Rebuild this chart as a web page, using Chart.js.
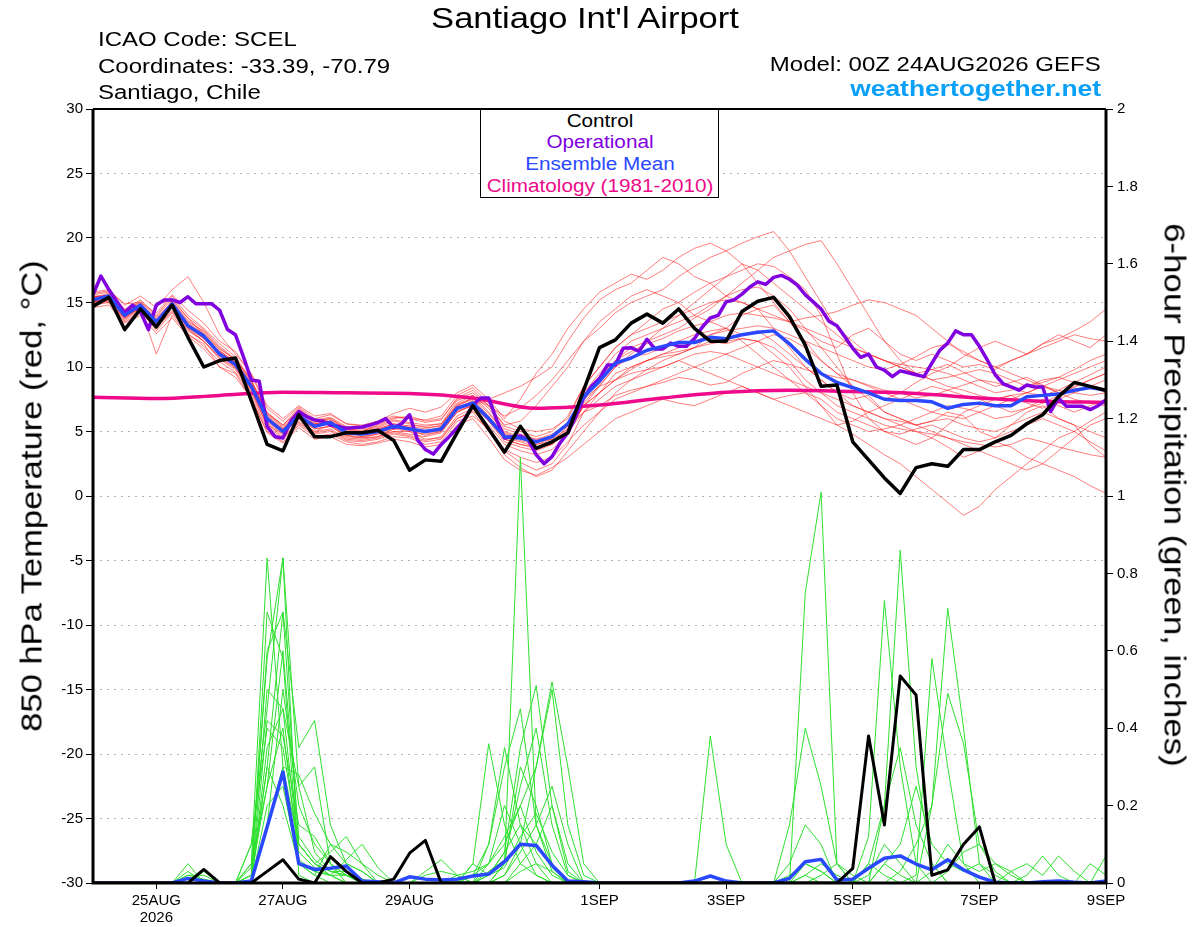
<!DOCTYPE html>
<html>
<head>
<meta charset="utf-8">
<script src="https://cdn.jsdelivr.net/npm/chart.js@4.4.1/dist/chart.umd.min.js"></script>
<style>
  html, body { margin: 0; padding: 0; background: #fff; }
  #wrap { position: relative; width: 1200px; height: 927px; overflow: hidden;
          font-family: 'Liberation Sans', Arial, sans-serif; color: #000; }
  #c { position: absolute; left: 0; top: 0; }
  .t { position: absolute; white-space: nowrap; line-height: 1; }
  .wide-l { transform-origin: left center; transform: scaleX(1.2); }
  .wide-r { transform-origin: right center; transform: scaleX(1.2); }
  #legend { position: absolute; left: 480px; top: 109px; width: 237px; height: 87px;
            border: 1px solid #000; background: #fff; }
  #legend div { position: absolute; left: 50%; font-size: 18px; line-height: 1;
                white-space: nowrap; transform: translateX(-50%) scaleX(1.15); }
</style>
</head>
<body>
<div id="wrap">
  <canvas id="c" width="1200" height="927"></canvas>

  <div class="t" style="left:585px; top:4px; font-size:29px; transform:translateX(-50%) scaleX(1.19);">Santiago Int'l Airport</div>
  <div class="t wide-l" style="left:98px; top:29px; font-size:20px;">ICAO Code: SCEL</div>
  <div class="t wide-l" style="left:98px; top:56px; font-size:20px;">Coordinates: -33.39, -70.79</div>
  <div class="t wide-l" style="left:98px; top:82px; font-size:20px;">Santiago, Chile</div>
  <div class="t wide-r" style="right:99px; top:54px; font-size:20px;">Model: 00Z 24AUG2026 GEFS</div>
  <div class="t wide-r" style="right:99px; top:78px; font-size:22px; font-weight:bold; color:#0aa0f8;">weathertogether.net</div>

  <div id="legend">
    <div style="top:2px; color:#000;">Control</div>
    <div style="top:23px; color:#8000e0;">Operational</div>
    <div style="top:45px; color:#2a48ff;">Ensemble Mean</div>
    <div style="top:67px; color:#ee0a8a;">Climatology (1981-2010)</div>
  </div>

  <div class="t" style="left:32px; top:496px; font-size:29px; transform:translate(-50%,-50%) rotate(-90deg) scaleX(1.19);">850 hPa Temperature (red, °C)</div>
  <div class="t" style="left:1174px; top:495px; font-size:29px; transform:translate(-50%,-50%) rotate(90deg) scaleX(1.2);">6-hour Precipitation (green, inches)</div>
</div>

<script>
// x axis: forecast hour, 6-hourly from 00Z 24AUG to 00Z 9SEP
const tickHours = [24, 72, 120, 192, 240, 288, 336, 384];
const tickLabels = [['25AUG', '2026'], '27AUG', '29AUG', '1SEP', '3SEP', '5SEP', '7SEP', '9SEP'];

// 850 hPa temperature (C), 6-hourly
const controlTemp = [14.7,15.4,12.9,14.5,13.1,14.8,12.3,10.0,10.5,10.7,7.4,
  4.0,3.5,6.3,4.6,4.6,4.9,4.9,5.1,4.3,2.0,2.8,2.7,
  4.9,7.0,5.2,3.4,5.4,3.7,4.2,4.9,
  8.2,11.5,12.1,13.4,14.1,13.4,14.5,13.0,12.0,12.0,14.3,15.1,15.4,13.9,
  11.7,8.5,8.6,4.2,2.8,1.4,0.2,2.2,2.5,2.3,3.6,3.6,4.2,4.7,5.6,6.3,7.7,8.8,8.5,8.2];

const meanTemp = [15.2,15.5,14.0,14.8,13.5,14.9,13.2,12.4,11.0,10.2,8.5,
  6.0,5.0,6.2,5.4,5.7,4.9,4.8,5.0,5.4,5.2,5.0,5.2,
  6.8,7.2,6.0,4.6,4.5,4.2,4.6,5.6,
  7.7,8.9,10.3,10.7,11.3,11.6,11.9,11.9,12.3,12.2,12.5,12.7,12.8,11.8,
  10.6,9.5,8.8,8.4,8.0,7.5,7.4,7.4,7.3,6.8,7.1,7.2,7.0,7.0,7.7,7.8,7.9,8.2,8.4,8.2];

// operational run is 3-hourly
const operTemp = [15.6,17.05,16.0,15.1,14.2,14.8,14.3,12.9,14.8,15.2,
  15.2,15.0,15.45,14.9,14.9,14.9,14.4,12.9,12.5,10.8,
  9.0,8.9,5.4,4.6,4.5,5.8,6.55,6.15,5.9,5.8,
  5.5,5.4,5.25,5.3,5.35,5.5,5.7,6.0,5.3,5.6,
  6.3,4.35,3.6,3.25,4.0,4.6,5.25,6.0,7.05,7.6,
  7.6,5.9,4.5,4.6,4.65,4.35,3.2,2.5,3.05,4.1,
  4.9,6.15,7.6,8.5,9.1,10.15,10.15,11.45,11.5,11.2,
  12.15,11.4,11.4,11.85,11.6,11.6,12.2,13.1,13.8,14.0,
  15.05,15.2,15.65,16.2,16.6,16.4,16.95,17.1,16.8,16.35,
  15.6,15.05,14.5,13.55,13.2,12.35,11.45,10.75,11.0,10.0,
  9.75,9.25,9.7,9.55,9.4,9.25,10.3,11.3,11.85,12.8,
  12.5,12.5,11.6,10.55,9.4,8.7,8.45,8.2,8.6,8.45,
  8.45,6.55,7.6,6.95,6.95,6.95,6.7,7.0,7.45];

// climatology, one value per day
const climTemp = [7.65,7.55,7.8,8.05,8.0,7.95,7.6,6.8,7.05,7.6,8.05,8.2,8.1,7.95,7.6,7.35,7.25];

// ensemble members, 6-hourly
const tempMembers = [
  [15.6,15.8,14.5,15.2,14.0,15.5,14.0,13.0,11.8,10.8,9.0,
   6.5,5.5,6.8,5.8,6.0,5.2,5.0,5.5,6.0,6.2,5.8,6.0,
   7.5,8.0,7.0,5.5,5.8,7.0,8.5,10.0,
   12.0,13.0,14.2,15.0,15.5,16.0,17.0,17.8,18.5,19.0,19.6,20.1,20.5,19.0,
   17.0,15.0,13.0,12.0,11.0,10.5,10.0,9.5,9.8,10.2,9.6,9.0,8.5,8.8,9.2,8.6,8.0,8.4,9.0,9.5],
  [15.0,15.2,13.8,14.6,13.2,14.6,13.0,12.0,10.6,9.8,8.0,
   5.5,4.8,6.0,5.2,5.4,4.6,4.5,4.8,5.0,4.8,4.6,4.9,
   6.5,7.0,7.5,8.0,8.5,9.2,10.0,12.0,
   13.8,15.2,16.0,16.5,17.5,18.5,18.0,17.0,16.5,15.5,15.0,14.5,13.0,11.5,
   10.0,9.0,8.0,7.5,7.8,6.5,6.0,5.5,5.8,6.5,6.2,5.0,4.5,5.5,6.5,7.0,6.0,5.5,4.0,3.0],
  [15.3,15.6,14.2,14.9,13.8,15.0,13.5,12.8,11.5,10.5,8.8,
   6.2,5.2,6.5,5.6,5.8,5.0,4.6,4.8,5.2,5.0,4.4,4.5,
   6.0,6.5,5.0,3.5,2.6,2.0,2.5,4.0,
   6.5,8.0,9.5,10.0,10.5,10.8,11.0,11.5,12.0,11.8,12.2,12.0,11.0,10.0,
   8.5,7.0,5.5,4.8,4.0,3.2,2.5,1.5,0.5,-0.5,-1.5,-0.8,0.5,1.5,2.5,3.5,4.5,5.0,5.8,6.5],
  [14.8,15.0,13.5,14.2,13.0,14.3,12.8,12.0,10.8,10.0,8.2,
   5.8,4.9,6.0,5.0,5.5,4.7,4.5,4.6,5.2,5.5,5.4,5.6,
   7.0,7.5,6.2,4.8,4.5,4.0,4.2,5.0,
   6.5,7.5,8.5,9.0,9.8,10.5,11.0,11.5,12.5,13.0,14.0,14.5,14.8,13.5,
   12.8,12.0,11.5,12.5,13.0,12.0,11.0,10.5,11.0,10.5,10.0,10.2,9.8,10.5,11.0,11.8,12.2,12.8,13.5,14.5],
  [15.5,15.3,14.0,14.5,13.2,15.2,13.8,12.5,11.0,10.0,8.5,
   6.0,5.0,6.2,5.6,5.8,5.1,5.0,5.2,5.6,5.4,5.2,5.5,
   7.2,7.8,6.8,5.2,4.8,4.4,4.6,5.5,
   7.5,9.0,10.5,11.5,12.0,12.5,13.0,13.8,14.5,15.5,16.5,17.5,18.5,19.0,
   19.5,19.8,18.0,16.0,14.0,12.0,10.5,9.5,9.0,8.5,8.2,7.8,7.5,7.8,8.0,8.5,8.2,8.0,7.8,8.0],
  [15.0,15.4,13.8,14.8,13.4,14.6,13.0,12.2,11.2,10.4,8.6,
   6.0,5.2,6.4,5.4,5.6,4.8,4.9,5.2,5.6,5.2,5.0,5.3,
   6.8,7.4,6.0,4.5,4.2,3.8,4.0,5.0,
   7.0,8.5,10.0,10.8,11.0,11.5,12.0,12.5,12.8,13.0,12.5,12.8,12.0,11.0,
   10.0,9.0,8.0,7.0,6.5,6.0,5.5,5.0,4.5,3.8,3.0,3.5,4.2,3.8,3.0,2.5,2.0,1.5,0.8,0.2],
  [15.4,15.7,14.4,15.0,13.6,14.9,13.4,12.6,11.4,10.6,9.0,
   6.4,5.4,6.6,5.8,6.0,5.3,5.2,5.4,5.9,5.7,5.5,5.6,
   7.4,7.8,6.5,5.0,4.6,4.4,4.8,5.4,
   6.5,7.0,7.8,8.2,8.5,8.8,9.2,9.0,8.6,8.8,9.5,10.0,10.5,10.2,
   9.8,9.5,9.2,9.0,8.6,8.2,8.0,7.6,7.8,8.2,8.6,9.0,8.8,8.4,8.0,7.8,8.2,8.8,9.4,10.0],
  [15.1,15.3,13.9,14.7,13.6,14.8,13.3,12.3,10.9,10.1,8.3,
   5.6,4.6,5.8,5.0,5.2,4.5,4.4,4.6,5.0,5.0,4.8,5.0,
   6.6,7.0,5.8,4.2,3.8,3.5,4.0,5.2,
   8.0,9.5,11.0,12.0,12.5,13.0,13.5,14.0,14.8,15.5,16.0,16.2,15.5,14.5,
   13.0,11.5,10.0,8.5,7.5,6.5,6.0,5.5,5.8,6.0,5.5,5.2,5.0,5.5,6.0,6.5,6.0,5.5,5.0,4.5],
  [14.9,15.1,13.6,14.4,12.8,14.2,12.6,11.6,10.4,9.6,7.8,
   5.2,4.4,5.6,4.8,5.0,4.3,4.2,4.4,4.8,4.6,4.2,4.4,
   6.0,6.6,5.5,4.0,3.5,3.2,3.6,4.8,
   7.0,8.0,9.0,10.0,10.5,11.0,11.2,11.5,11.8,12.0,12.2,12.0,11.5,10.5,
   9.0,8.0,7.0,6.5,6.0,5.5,5.2,5.0,4.8,4.5,4.2,4.0,3.8,4.0,4.5,4.2,3.8,3.5,3.2,3.0],
  [15.8,16.0,14.8,15.5,14.6,16.0,17.0,15.0,12.5,11.0,9.5,
   7.0,6.0,7.0,6.2,6.4,5.6,5.4,5.8,6.2,6.0,5.9,6.2,
   7.8,8.4,7.2,5.8,5.2,5.0,5.2,6.0,
   8.5,10.0,11.5,12.5,13.0,13.5,14.0,14.5,15.0,15.2,15.0,14.5,14.0,13.5,
   13.0,12.5,12.0,11.5,11.0,10.5,10.0,9.5,9.0,9.2,9.5,9.8,9.5,9.0,8.5,8.8,9.2,9.8,10.5,11.0],
  [15.2,15.0,13.8,14.6,11.0,14.0,12.5,11.8,10.0,9.5,7.5,
   5.0,4.2,5.5,4.6,4.8,4.2,4.0,4.2,4.6,4.5,4.0,4.2,
   5.8,6.2,5.2,3.6,3.0,2.6,3.0,4.2,
   5.5,6.5,7.5,8.0,8.5,9.0,9.5,10.0,10.5,11.0,11.5,12.0,12.5,12.2,
   11.5,10.5,9.5,9.0,8.5,8.0,7.5,7.0,6.5,6.2,6.0,6.5,7.0,7.5,8.0,8.5,9.0,9.5,10.0,10.5],
  [15.0,15.5,14.0,14.8,13.4,14.6,13.2,12.2,11.0,10.2,8.6,
   6.1,5.1,6.3,5.5,5.8,5.0,4.8,5.1,5.5,5.3,5.0,5.3,
   7.0,7.6,7.0,6.2,6.8,7.8,9.0,10.5,
   12.0,13.5,14.5,15.5,16.0,15.5,15.0,14.0,13.5,13.0,12.0,11.0,10.0,9.0,
   8.0,7.0,6.0,5.5,5.0,5.2,5.5,6.0,6.5,7.0,6.8,6.5,6.0,6.2,6.8,7.5,7.0,6.5,7.0,7.5],
  [15.4,15.6,14.2,14.9,13.7,15.1,13.6,12.7,11.3,10.3,8.7,
   6.3,5.3,6.5,5.7,5.9,5.2,5.1,5.3,5.8,5.6,5.3,5.4,
   7.1,7.6,6.4,4.9,4.5,4.2,4.4,5.2,
   7.2,8.6,10.0,11.0,12.0,13.0,14.0,15.0,16.0,17.0,18.0,17.5,16.5,15.5,
   14.5,13.5,12.5,11.5,11.0,10.5,10.2,10.0,9.8,9.5,9.0,8.5,8.0,8.2,8.5,9.0,9.2,8.8,8.5,8.0],
  [15.3,15.4,14.1,14.8,13.5,14.8,13.2,12.4,11.1,10.3,8.5,
   5.9,5.0,6.2,5.4,5.6,4.9,4.8,5.0,5.4,5.2,4.9,5.1,
   6.7,7.2,6.0,4.6,4.3,4.0,4.4,5.6,
   7.5,8.5,9.0,9.5,9.8,10.0,10.5,11.0,11.2,11.0,10.5,10.0,9.5,9.0,
   8.5,8.0,7.5,7.0,6.5,6.0,5.8,5.5,5.0,4.5,4.0,3.5,3.0,2.5,2.0,2.5,3.5,4.5,5.5,6.0],
  [15.2,15.5,14.0,14.8,13.5,14.9,13.3,12.5,11.2,10.4,8.7,
   6.0,5.1,6.3,5.5,5.7,5.0,4.9,5.1,5.5,5.3,5.0,5.2,
   6.9,7.3,6.0,4.4,4.0,3.8,4.2,5.4,
   7.8,9.2,10.5,11.2,11.8,12.2,12.8,13.2,13.5,14.0,14.2,14.0,13.8,13.5,
   13.8,14.0,14.3,14.8,15.2,15.0,14.5,14.0,13.0,12.0,11.0,10.5,10.0,9.5,9.0,8.5,8.0,7.5,7.2,7.0],
  [15.0,15.2,13.7,14.5,13.1,14.4,12.9,12.0,10.7,9.9,8.2,
   5.4,4.5,5.7,4.9,5.1,4.4,4.3,4.5,4.9,4.7,4.3,4.6,
   6.2,6.8,5.0,3.2,2.2,1.5,2.0,3.5,
   5.0,6.5,8.0,9.0,9.5,10.0,10.5,10.0,9.5,9.0,8.5,8.0,7.5,7.0,
   6.5,6.0,5.5,5.8,6.5,7.0,7.5,8.0,8.5,8.2,7.8,7.5,7.0,6.5,6.8,7.2,7.8,8.5,9.0,9.5],
  [15.7,15.9,14.9,15.0,14.2,15.6,14.4,13.4,12.0,11.2,9.4,
   6.8,5.8,6.9,6.0,6.3,5.6,5.5,5.8,6.4,6.8,6.5,6.9,
   8.0,8.6,7.5,6.0,7.5,9.5,11.0,13.0,
   14.5,15.8,16.5,17.2,16.8,17.5,18.5,19.2,19.6,19.0,18.0,16.5,15.0,13.5,
   12.0,10.5,9.5,8.5,8.0,7.5,8.0,8.8,9.5,10.0,10.8,11.5,12.0,11.5,11.0,11.8,12.5,12.0,11.5,12.5],
  [14.6,14.8,13.4,14.0,12.6,13.8,12.4,11.4,10.0,9.2,7.6,
   4.9,4.1,5.3,4.4,4.6,4.0,3.9,4.1,4.4,4.2,3.8,4.0,
   5.5,6.0,4.5,2.8,2.0,1.6,2.2,3.0,
   4.0,5.0,6.0,6.5,7.0,7.5,7.2,7.0,7.5,8.0,8.5,8.0,7.5,7.8,
   8.0,7.5,6.5,6.0,5.5,5.0,4.8,5.2,5.5,5.0,4.5,4.2,4.5,5.0,5.5,6.0,5.5,5.0,4.2,3.5],
  [15.5,15.5,14.3,15.1,13.9,15.3,13.8,12.9,11.6,10.6,8.9,
   6.4,5.5,6.7,5.9,6.1,5.4,5.3,5.6,6.1,6.0,5.7,5.9,
   7.6,8.2,7.0,5.4,5.0,4.6,5.0,6.2,
   8.5,10.0,11.5,12.5,13.5,14.5,15.0,15.8,16.5,17.0,17.5,18.0,17.8,17.0,
   16.0,14.0,11.0,8.0,6.0,5.0,4.5,4.0,4.5,5.5,6.5,7.0,7.5,7.8,7.2,6.8,7.5,8.0,8.5,9.0],
  [15.2,15.6,14.1,14.7,13.3,14.7,13.1,12.3,11.0,10.1,8.4,
   5.7,4.8,6.0,5.2,5.4,4.7,4.6,4.9,5.3,5.1,4.7,5.0,
   6.5,7.1,5.8,4.4,4.0,3.7,4.0,5.0,
   7.0,8.0,9.0,9.8,10.5,11.0,11.5,12.0,12.5,12.8,13.0,13.2,13.0,12.5,
   12.0,11.5,11.0,10.5,10.0,9.8,10.2,10.8,11.5,11.8,11.2,10.5,10.0,10.5,11.0,11.5,12.0,12.5,12.2,12.0]
];

// 6-hour precipitation (inches)
const controlPrecip = [0,0,0,0,0,0,0,0.035,0,0,0,0.03,0.06,
  0.01,0,0.068,0.03,0,0,0.01,0.077,0.11,0,0,0,0,
  0,0,0,0,0,0,0,0,0,0,0,0,0,
  0,0,0,0,0,0,0,0,0,0.038,0.38,0.15,0.535,
  0.486,0.02,0.034,0.10,0.145,0,0,0,0,0,0,0,0];

const meanPrecip = [0,0,0,0,0,0,0.012,0.005,0,0,0.005,0.145,0.287,
  0.05,0.035,0.038,0.044,0.005,0.003,0,0.016,0.01,0.008,0.01,0.018,0.023,
  0.055,0.10,0.097,0.046,0.005,0.003,0,0,0,0,0,0,0.005,
  0.018,0.005,0,0,0,0.012,0.055,0.061,0.008,0.01,0.038,0.064,0.07,
  0.049,0.034,0.06,0.034,0.015,0.002,0,0,0.003,0.005,0.002,0,0.005];

const precipMembers = [
  [0,0,0,0,0,0,0.02,0.01,0,0,0.05,0.84,0.30,
   0.10,0.05,0.02,0,0,0,0,0,0,0,0,0,0.05,
   0.20,0.10,0.02,0,0,0,0,0,0,0,0,0,0,
   0,0,0,0,0,0,0.02,0,0,0,0.05,0.02,0,
   0,0,0,0,0,0,0,0,0,0,0,0,0],
  [0,0,0,0,0,0,0,0.03,0,0,0.10,0.45,0.84,
   0.25,0.08,0.03,0.02,0,0,0,0,0.02,0.03,0.02,0,0,
   0.05,1.10,0.15,0.03,0,0,0,0,0,0,0,0,0,
   0,0,0,0,0,0,0.05,0.03,0,0,0.02,0.10,0.05,
   0,0,0,0,0,0,0,0,0,0,0,0,0],
  [0,0,0,0,0,0,0,0,0,0,0.02,0.30,0.70,
   0.35,0.42,0.15,0.05,0.03,0,0,0,0,0,0,0,0.02,
   0.08,0.35,0.51,0.20,0.03,0,0,0,0,0,0,0,0,
   0,0,0,0,0,0,0.75,1.01,0.05,0,0,0,0,
   0,0,0,0,0,0,0,0,0,0,0,0,0],
  [0,0,0,0,0,0,0.03,0,0,0,0,0.70,0.58,
   0.05,0.03,0.02,0.06,0.10,0.04,0,0,0,0,0.02,0.03,0.05,
   0.10,0.20,0.30,0.52,0.30,0.05,0,0,0,0,0,0,0,
   0,0,0,0,0,0,0.02,0.05,0.02,0,0,0,0,
   0,0,0,0,0,0,0,0,0,0,0,0,0],
  [0,0,0,0,0,0,0,0,0,0,0.04,0.58,0.84,
   0.02,0,0,0,0,0,0,0,0,0,0,0.05,0.36,
   0.15,0.05,0.02,0,0,0,0,0,0,0,0,0,0,
   0,0,0,0,0,0,0,0,0,0,0.12,0.73,0.30,
   0.05,0,0,0,0,0,0,0,0,0,0,0,0],
  [0,0,0,0,0,0,0,0,0,0,0,0.50,0.45,
   0.25,0.30,0.05,0.02,0,0,0,0,0,0,0,0.02,0.10,
   0.30,0.45,0.15,0.05,0,0,0,0,0,0,0,0,0,
   0,0,0,0,0,0,0,0,0,0,0,0.20,0.86,
   0.30,0.05,0,0,0,0,0,0,0,0,0,0,0],
  [0,0,0,0,0,0,0.02,0.02,0,0,0.10,0.40,0.35,
   0.10,0.05,0.08,0.12,0.05,0,0,0,0,0,0,0,0.03,
   0.06,0.25,0.40,0.15,0.02,0,0,0,0,0,0,0,0,
   0.38,0.10,0,0,0,0,0,0,0,0,0,0,0,
   0.02,0.58,0.30,0.05,0,0,0,0,0,0,0,0,0],
  [0,0,0,0,0,0,0,0,0,0,0.02,0.25,0.60,
   0.12,0.06,0.03,0.03,0,0,0,0,0.03,0.06,0.02,0,0,
   0.02,0.10,0.30,0.50,0.15,0.02,0,0,0,0,0,0,0,
   0,0,0,0,0,0.05,0.15,0.10,0,0,0,0,0,
   0,0.20,0.71,0.40,0.05,0,0,0,0,0,0,0,0],
  [0,0,0,0,0,0,0,0,0,0,0,0.30,0.20,
   0.05,0.02,0,0,0,0,0,0,0,0,0,0.02,0.05,
   0.12,0.20,0.08,0.02,0,0,0,0,0,0,0,0,0,
   0,0,0,0,0,0,0,0,0,0,0,0,0.03,
   0.10,0.20,0.49,0.36,0.10,0.03,0,0,0,0,0,0,0],
  [0,0,0,0,0,0,0,0,0,0,0,0.15,0.50,
   0.20,0.10,0.05,0,0,0,0,0,0,0,0,0,0.10,
   0.35,0.15,0.05,0,0,0,0,0,0,0,0,0,0,
   0,0,0,0,0,0.15,0.40,0.25,0.05,0,0,0,0,
   0,0,0,0,0,0,0,0.02,0.07,0.02,0,0,0],
  [0,0,0,0,0,0,0,0,0,0,0,0.35,0.45,
   0.08,0.04,0.02,0,0,0,0,0,0,0,0,0,0,
   0.05,0.30,0.20,0.05,0,0,0,0,0,0,0,0,0,
   0,0,0,0,0,0,0,0,0,0,0.05,0.20,0.35,
   0.15,0.05,0,0,0,0,0,0,0,0,0,0,0.07],
  [0,0,0,0,0,0,0,0,0,0,0,0.42,0.38,
   0.15,0.12,0.05,0.02,0,0,0,0,0,0,0,0,0.02,
   0.04,0.12,0.18,0.08,0.02,0,0,0,0,0,0,0,0,
   0,0,0,0,0,0,0,0,0,0,0,0,0,
   0,0,0,0,0,0,0,0,0,0,0,0,0],
  [0,0,0,0,0,0,0,0,0,0,0,0.15,0.30,
   0.28,0.18,0.10,0.05,0.03,0,0,0,0,0,0,0,0,
   0,0.05,0.10,0.04,0,0,0,0,0,0,0,0,0,
   0,0,0,0,0,0,0,0,0,0,0,0.05,0.10,
   0.25,0.10,0.05,0.03,0.05,0.02,0,0,0,0,0,0,0],
  [0,0,0,0,0,0,0.05,0,0,0,0,0.20,0.25,
   0.05,0.02,0.10,0.08,0.05,0.02,0,0,0,0,0,0.05,0.02,
   0.08,0.15,0.10,0.20,0.05,0,0,0,0,0,0,0,0,
   0,0,0,0,0,0.02,0.05,0.03,0,0,0,0.05,0.02,
   0,0.03,0.10,0.05,0.03,0.05,0.03,0,0,0,0,0,0],
  [0,0,0,0,0,0,0,0,0,0,0.02,0.60,0.70,
   0.10,0.05,0.03,0.02,0,0,0,0,0,0,0,0,0,
   0.02,0.08,0.15,0.25,0.10,0,0,0,0,0,0,0,0,
   0,0,0,0,0,0,0,0.02,0.05,0.02,0,0,0,
   0,0,0.03,0.08,0.10,0.05,0.02,0,0,0,0,0.05,0.02],
  [0,0,0,0,0,0,0,0,0,0,0.05,0.25,0.40,
   0.06,0.03,0.02,0.02,0.01,0,0,0,0,0,0,0,0,
   0,0.03,0.05,0.03,0,0,0,0,0,0,0,0,0,
   0,0,0,0,0,0,0,0,0,0,0,0,0,
   0,0,0,0,0,0,0.03,0.05,0.02,0.07,0.03,0,0]
];

const pts = (vals, stepHours) => vals.map((v, i) => ({ x: i * stepHours, y: v }));

const line = (vals, step, color, width, axis) => ({
  data: pts(vals, step),
  borderColor: color,
  borderWidth: width,
  yAxisID: axis,
  pointRadius: 0,
  tension: 0,
  fill: false,
  borderJoinStyle: 'round'
});

// first dataset is drawn on top
const datasets = [
  line(controlTemp, 6, '#000000', 3.5, 'y'),
  line(meanTemp, 6, '#2a48ff', 3.5, 'y'),
  line(operTemp, 3, '#8000e0', 3.5, 'y'),
  Object.assign(line(climTemp, 24, '#ee0a8a', 3.5, 'y'), { cubicInterpolationMode: 'monotone' }),
  line(controlPrecip, 6, '#000000', 3, 'y2'),
  line(meanPrecip, 6, '#2a48ff', 3.5, 'y2')
];
precipMembers.forEach(m => datasets.push(line(m, 6, '#2ee02e', 1, 'y2')));
tempMembers.forEach(m => datasets.push(line(m, 6, 'rgba(255,20,20,0.55)', 1, 'y')));

const tickFont = { family: "'Liberation Sans', Arial, sans-serif", size: 15, lineHeight: 1.1 };

// black frame round the plot area
const frame = {
  id: 'frame',
  afterDatasetsDraw(chart) {
    const { ctx, chartArea: a } = chart;
    ctx.save();
    ctx.strokeStyle = '#000';
    ctx.lineWidth = 3;
    ctx.beginPath();
    ctx.moveTo(a.left, a.top);
    ctx.lineTo(a.left, a.bottom);
    ctx.lineTo(a.right, a.bottom);
    ctx.lineTo(a.right, a.top);
    ctx.stroke();
    ctx.lineWidth = 2;
    ctx.beginPath();
    ctx.moveTo(a.left, a.top);
    ctx.lineTo(a.right, a.top);
    ctx.stroke();
    ctx.restore();
  }
};

new Chart(document.getElementById('c'), {
  type: 'line',
  data: { datasets },
  plugins: [frame],
  options: {
    responsive: false,
    animation: false,
    devicePixelRatio: 1,
    layout: { padding: { top: 109, left: 0, right: 0, bottom: 0 } },
    plugins: { legend: { display: false }, tooltip: { enabled: false } },
    scales: {
      x: {
        type: 'linear', min: 0, max: 384,
        afterBuildTicks: s => { s.ticks = tickHours.map(v => ({ value: v })); },
        afterFit: s => { s.height = 44; },
        grid: { drawOnChartArea: false, drawTicks: true, tickLength: 6, tickColor: '#000' },
        border: { display: false },
        ticks: {
          font: tickFont, color: '#000', padding: 4, maxRotation: 0, autoSkip: false,
          callback: v => { const k = tickHours.indexOf(v); return k < 0 ? '' : tickLabels[k]; }
        }
      },
      y: {
        position: 'left', min: -30, max: 30,
        afterFit: s => { s.width = 93; },
        grid: { color: '#b0b0b0', lineWidth: 1, tickColor: '#000', tickLength: 7, tickBorderDash: [] },
        border: { display: false, dash: [2, 5] },
        ticks: { stepSize: 5, font: tickFont, color: '#000', padding: 3, callback: v => String(v) }
      },
      y2: {
        position: 'right', min: 0, max: 2,
        afterFit: s => { s.width = 94; },
        grid: { drawOnChartArea: false, tickColor: '#000', tickLength: 7 },
        border: { display: false },
        ticks: { stepSize: 0.2, font: tickFont, color: '#000', padding: 4,
                 callback: v => String(Math.round(v * 10) / 10) }
      }
    }
  }
});
</script>
</body>
</html>
